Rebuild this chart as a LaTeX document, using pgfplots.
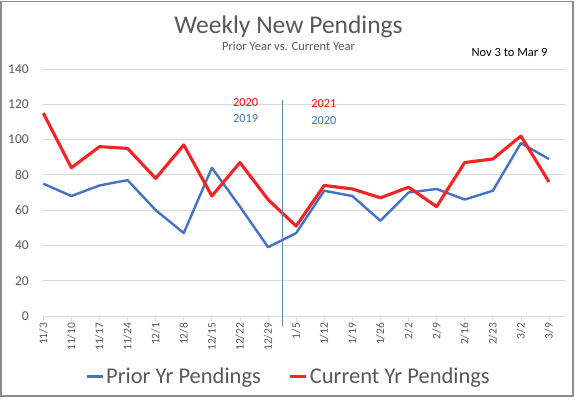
\documentclass[border=0pt]{standalone}
\usepackage{pgfplots}
\pgfplotsset{compat=1.18}
\usepackage{pgfplotstable}
\usepackage{fontspec}
\setmainfont{Carlito}
\definecolor{exblue}{HTML}{4472C4}
\definecolor{exred}{RGB}{245,35,35}
\definecolor{txtgray}{HTML}{595959}
\definecolor{gridgray}{HTML}{D9D9D9}
\definecolor{framegray}{HTML}{8C8C8C}

\pgfplotstableread{
x prior current
0 75 115
1 68 84
2 74 96
3 77 95
4 60 78
5 47 97
6 84 68
7 62 87
8 39 66
9 47 51
10 71 74
11 68 72
12 54 67
13 70 73
14 72 62
15 66 87
16 71 89
17 98 102
18 89 76
}\datatable

\begin{document}
\begin{tikzpicture}[x=1pt,y=1pt]
\useasboundingbox (0,0) rectangle (576,400);
\fill[white] (0,0) rectangle (576,400);
\draw[framegray, line width=1.5pt] (1.2,3.8) rectangle (573,398.5);

\node[font=\fontsize{25.5}{28}\selectfont, text=txtgray, anchor=base] at (288.5,366) {Weekly New Pendings};
\node[font=\fontsize{12.5}{14}\selectfont, text=txtgray, anchor=base] at (288.5,349) {Prior Year vs. Current Year};
\node[font=\fontsize{12.5}{14}\selectfont, text=black, anchor=base] at (509.5,344) {Nov 3 to Mar 9};

\begin{axis}[
  at={(43.3pt,84pt)}, anchor=south west,
  scale only axis, width=521.7pt, height=247pt,
  xmin=0, xmax=18.57, ymin=0, ymax=140,
  ytick={0,20,...,140},
  xtick={0,...,18},
  xticklabels={11/3,11/10,11/17,11/24,12/1,12/8,12/15,12/22,12/29,1/5,1/12,1/19,1/26,2/2,2/9,2/16,2/23,3/2,3/9},
  /pgf/number format/assume math mode=true,
  axis line style={draw=none},
  ymajorgrids, grid style={color=gridgray, line width=0.75pt},
  tick pos=left, tick align=outside,
  major tick length=5pt,
  xtick style={draw=gridgray, line width=0.75pt},
  ytick style={draw=none},
  yticklabel style={font=\fontsize{13.5}{14}\selectfont, text=txtgray, xshift=-6pt},
  xticklabel style={font=\fontsize{11.5}{12}\selectfont, text=txtgray, rotate=90, anchor=east, xshift=1.5pt},
  clip=false,
  legend style={at={(0.47,-0.243)}, anchor=center, draw=none, fill=none,
    legend columns=2, font=\fontsize{22.5}{24}\selectfont, text=txtgray,
    /tikz/every even column/.append style={column sep=26pt}},
  legend image code/.code={\draw[#1, line width=3pt] (0pt,0pt) -- (16pt,0pt);},
]
\addplot[exblue, line width=2.4pt, line join=round] table[x=x, y=prior] {\datatable};
\addlegendentry{Prior Yr Pendings}
\addplot[exred, line width=3.1pt, line join=round] table[x=x, y=current] {\datatable};
\addlegendentry{Current Yr Pendings}

\draw[exblue!85, line width=0.8pt] (axis cs:8.52,122.4) -- (axis cs:8.52,-5.7);
\node[font=\fontsize{12.3}{13}\selectfont, text=red] at (axis cs:7.2,120.8) {2020};
\node[font=\fontsize{12.3}{13}\selectfont, text=exblue] at (axis cs:7.2,111.7) {2019};
\node[font=\fontsize{12.3}{13}\selectfont, text=red] at (axis cs:9.99,120.6) {2021};
\node[font=\fontsize{12.3}{13}\selectfont, text=exblue] at (axis cs:9.99,110.8) {2020};
\end{axis}
\end{tikzpicture}
\end{document}
